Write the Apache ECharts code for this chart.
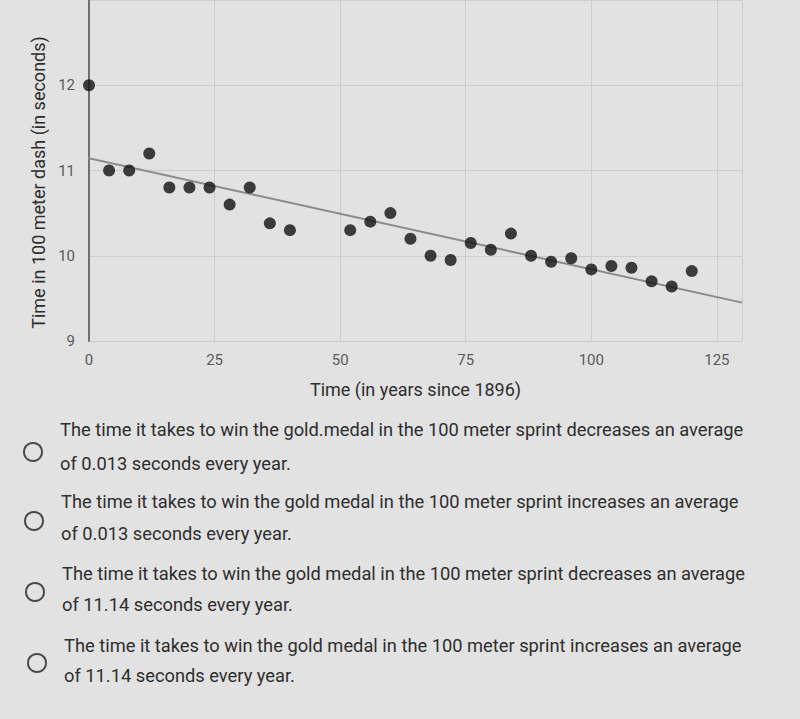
<!DOCTYPE html>
<html>
<head>
<meta charset="utf-8">
<script src="https://cdn.jsdelivr.net/npm/echarts@6/dist/echarts.min.js"></script>
<style>
html,body{margin:0;padding:0;background:#e2e2e2;}
#c{width:800px;height:719px;}
</style>
</head>
<body>
<div id="c"></div>
<script>
// Years since 1896
const years = [0,4,8,12,16,20,24,28,32,36,40,52,56,60,64,68,72,76,80,84,88,92,96,100,104,108,112,116,120];
// Winning time (seconds)
const times = [12.0,11.0,11.0,11.2,10.8,10.8,10.8,10.6,10.8,10.38,10.3,10.3,10.4,10.5,10.2,10.0,9.95,10.15,10.07,10.26,10.0,9.93,9.97,9.84,9.88,9.86,9.7,9.64,9.82];
// Trend line endpoints (x, y)
const trendX = [-2, 130];
const trendY = [11.17, 9.45];
const xTicks = [0,25,50,75,100,125];
const yTicks = [9,10,11,12];
const options = [
  ["The time it takes to win the gold.medal in the 100 meter sprint decreases an average", "of 0.013 seconds every year."],
  ["The time it takes to win the gold medal in the 100 meter sprint increases an average", "of 0.013 seconds every year."],
  ["The time it takes to win the gold medal in the 100 meter sprint decreases an average", "of 11.14 seconds every year."],
  ["The time it takes to win the gold medal in the 100 meter sprint increases an average", "of 11.14 seconds every year."]
];

const points = years.map((x,i)=>[x,times[i]]);
const trend = trendX.map((x,i)=>[x,trendY[i]]);

const lineY = [[429,463],[501,533],[573,604],[645,675]];
const textX = [60,61,62,64];
const circ = [[33,452],[34,521],[35,592],[37,663]];
const graphics = [];
options.forEach((lines,i)=>{
  graphics.push({type:'circle', shape:{cx:circ[i][0], cy:circ[i][1], r:9},
    style:{fill:'none', stroke:'#4a4a4a', lineWidth:2}});
  lines.forEach((t,j)=>{
    graphics.push({type:'text', x:textX[i], y:lineY[i][j],
      style:{text:t, fill:'#2e2e2e', font:'18.3px Roboto', verticalAlign:'middle', align:'left'}});
  });
});

const chart = echarts.init(document.getElementById('c'), null, {renderer:'svg'});
chart.setOption({
  backgroundColor:'#e2e2e2',
  animation:false,
  grid:{left:89, right:58, top:-8, bottom:378, containLabel:false},
  xAxis:{
    type:'value', min:0, max:130, interval:25,
    name:'Time (in years since 1896)', nameLocation:'middle', nameGap:39,
    nameTextStyle:{color:'#2e2e2e', fontSize:18, fontFamily:'Roboto'},
    axisLine:{show:false}, axisTick:{show:false},
    axisLabel:{color:'#5a5a5a', fontSize:15, fontFamily:'Roboto', margin:11,
      formatter:v=> xTicks.includes(v) ? String(v) : ''},
    splitLine:{show:true, lineStyle:{color:'#cdcdcd', width:1}}
  },
  yAxis:{
    type:'value', min:9, max:13, interval:1,
    name:'Time in 100 meter dash (in seconds)', nameLocation:'middle', nameGap:42,
    nameTextStyle:{color:'#2e2e2e', fontSize:18, fontFamily:'Roboto', padding:[0,24,0,0]},
    axisLine:{show:true, lineStyle:{color:'#707070', width:2}}, axisTick:{show:false},
    axisLabel:{color:'#5a5a5a', fontSize:15, fontFamily:'Roboto', margin:14,
      formatter:v=> yTicks.includes(v) ? String(v) : ''},
    splitLine:{show:true, lineStyle:{color:'#cdcdcd', width:1}}
  },
  series:[
    {type:'line', data:trend, symbol:'none', clip:false,
      lineStyle:{color:'#8a8a8a', width:2}, z:2},
    {type:'scatter', data:points, symbolSize:12,
      itemStyle:{color:'#111'}, z:3}
  ],
  graphic:graphics
});
</script>
</body>
</html>
